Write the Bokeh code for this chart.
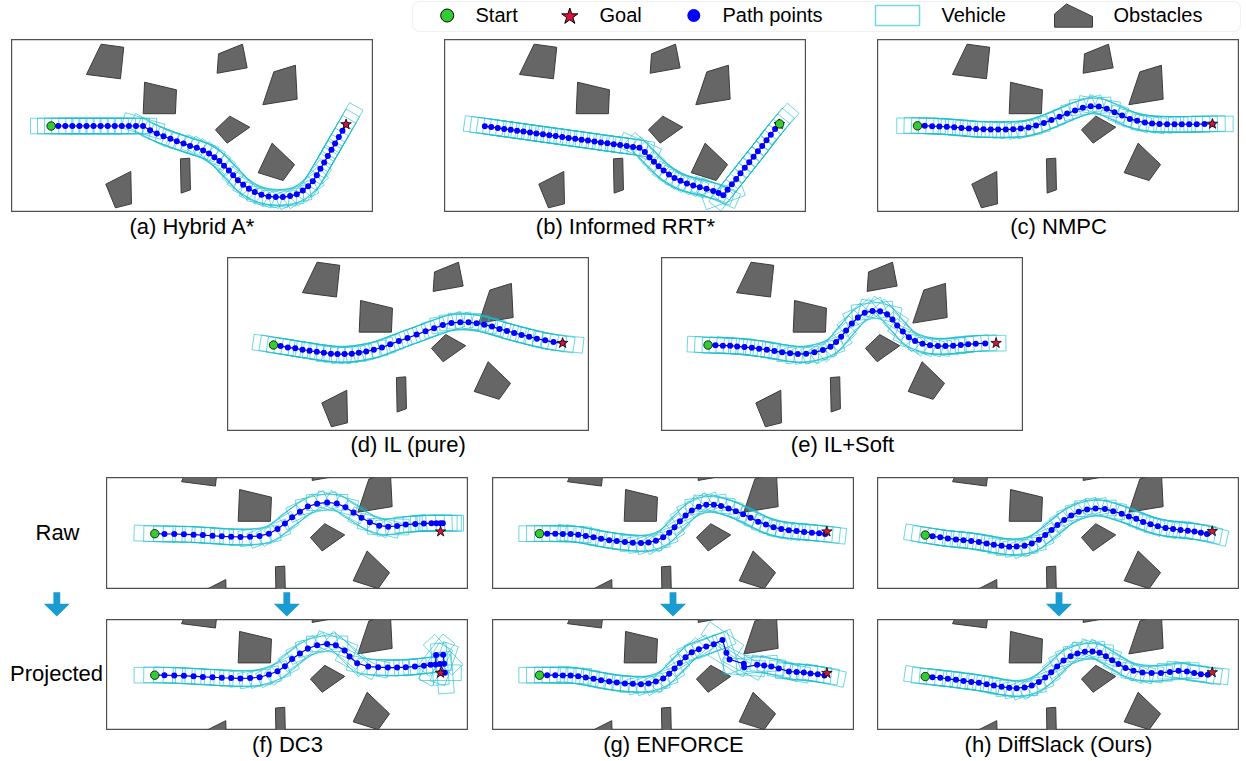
import numpy as np
from bokeh.plotting import figure
from bokeh.layouts import column, row
from bokeh.models import Range1d, Spacer, BoxAnnotation
from bokeh.core.properties import value
from bokeh.embed import file_html
from bokeh.resources import INLINE

FONT = "Liberation Sans"
VEH_L, VEH_W = 2.4, 0.9
CYAN = "#17becf"
OBST_FILL = "#666666"
OBST_LINE = "#3c3c3c"
FRAME = "#505050"
START_C = "#32cd32"
GOAL_C = "#dc143c"
PATH_C = "#0000ff"
ARROW_C = "#1a9bd2"

# ---------------- scene: obstacles (world coordinates, shared by all scenes) ----------------
obstacle_xs = [
    [4.35, 5.20, 6.51, 6.32],
    [11.93, 12.01, 13.40, 13.67],
    [14.58, 15.22, 16.47, 16.57],
    [7.64, 7.72, 9.57, 9.51],
    [11.83, 12.66, 13.82, 12.51],
    [14.31, 15.12, 16.42, 15.76],
    [9.80, 10.34, 10.38, 9.84],
    [5.47, 6.92, 6.96, 6.03],
]
obstacle_ys = [
    [2.98, 4.73, 4.55, 2.73],
    [3.05, 4.17, 4.73, 3.36],
    [1.23, 3.13, 3.51, 1.55],
    [0.71, 2.53, 2.09, 0.71],
    [-0.22, 0.57, -0.07, -0.99],
    [-2.70, -0.99, -2.23, -3.15],
    [-1.90, -1.86, -3.69, -3.88],
    [-3.36, -2.63, -4.50, -4.73],
]

# ---------------- planned paths ----------------
hybrid_x = [2.30, 2.71, 3.12, 3.53, 3.94, 4.35, 4.76, 5.17, 5.58, 5.99, 6.40, 6.81, 7.22, 7.63,
            8.04, 8.43, 8.82, 9.22, 9.59, 9.98, 10.36, 10.75, 11.12, 11.46, 11.77, 12.06, 12.33,
            12.61, 12.86, 13.13, 13.44, 13.77, 14.11, 14.50, 14.91, 15.33, 15.74,
            16.16, 16.55, 16.90, 17.21, 17.48, 17.71, 17.92, 18.14, 18.35, 18.56, 18.77, 18.99, 19.20, 19.41]
hybrid_y = [0, 0, 0, 0, 0, 0, 0, 0, 0, 0, 0, 0, 0, 0,
            -0.24, -0.43, -0.59, -0.74, -0.88, -1.01, -1.15, -1.26, -1.41, -1.59, -1.80, -2.03, -2.30,
            -2.57, -2.84, -3.13, -3.40, -3.63, -3.82, -3.98, -4.07, -4.11, -4.11,
            -4.05, -3.94, -3.73, -3.48, -3.19, -2.84, -2.47, -2.11, -1.74, -1.38, -1.01, -0.64, -0.28, 0.09]

rrt_x = [2.34, 2.71, 3.09, 3.46, 3.84, 4.21, 4.58, 4.96, 5.33, 5.71, 6.08, 6.45, 6.83, 7.20, 7.58,
         7.95, 8.32, 8.70, 9.07, 9.45, 9.82, 10.19, 10.57, 10.94, 11.31,
         11.62, 11.89, 12.15, 12.42, 12.71, 13.02, 13.34, 13.69, 14.06, 14.43, 14.81, 15.20, 15.59, 15.90, 16.17,
         16.42, 16.67, 16.92, 17.17, 17.42, 17.68, 17.93, 18.18, 18.43, 18.68, 18.93, 19.18, 19.44]
rrt_y = [-0.01, -0.06, -0.11, -0.17, -0.22, -0.27, -0.32, -0.37, -0.43, -0.48, -0.53, -0.58, -0.63, -0.69, -0.74,
         -0.79, -0.84, -0.89, -0.95, -1.00, -1.05, -1.10, -1.15, -1.21, -1.26,
         -1.51, -1.80, -2.07, -2.32, -2.57, -2.80, -3.00, -3.17, -3.33, -3.44, -3.54, -3.63, -3.75, -3.88, -4.00,
         -3.69, -3.36, -3.06, -2.73, -2.42, -2.09, -1.78, -1.46, -1.15, -0.82, -0.51, -0.18, 0.12]

nmpc_x = [2.32, 2.74, 3.17, 3.59, 4.02, 4.45, 4.87, 5.30, 5.72, 6.15, 6.57, 7.00, 7.44, 7.87, 8.31, 8.76,
          9.20, 9.65, 10.09, 10.56, 11.00, 11.46, 11.91, 12.37, 12.84, 13.30, 13.75, 14.19, 14.64, 15.06,
          15.51, 15.93, 16.36, 16.80, 17.23, 17.65, 18.08, 18.52, 18.97, 19.43]
nmpc_y = [0.01, 0.01, -0.01, -0.03, -0.05, -0.07, -0.11, -0.15, -0.17, -0.19, -0.20, -0.20, -0.20, -0.19,
          -0.15, -0.09, 0.03, 0.18, 0.34, 0.53, 0.72, 0.89, 1.05, 1.14, 1.12, 0.99, 0.80, 0.60, 0.41, 0.30,
          0.20, 0.14, 0.12, 0.10, 0.10, 0.10, 0.10, 0.10, 0.12, 0.12]

il_x = [2.67, 3.08, 3.50, 3.93, 4.35, 4.76, 5.18, 5.59, 6.00, 6.38, 6.79, 7.21, 7.62, 8.05, 8.49, 8.96,
        9.44, 9.94, 10.44, 10.97, 11.49, 11.99, 12.49, 12.99, 13.50, 13.98, 14.45, 14.89, 15.34, 15.78,
        16.21, 16.63, 17.06, 17.50, 17.95, 18.43, 18.91, 19.44]
il_y = [-0.03, -0.09, -0.17, -0.22, -0.30, -0.36, -0.42, -0.47, -0.53, -0.55, -0.55, -0.53, -0.47, -0.40,
        -0.30, -0.17, 0.01, 0.20, 0.37, 0.57, 0.76, 0.93, 1.12, 1.24, 1.28, 1.28, 1.22, 1.14, 1.03, 0.89,
        0.78, 0.66, 0.55, 0.45, 0.33, 0.24, 0.14, 0.08]

soft_x = [2.70, 3.13, 3.56, 3.98, 4.39, 4.81, 5.24, 5.66, 6.11, 6.55, 7.00, 7.46, 7.91, 8.39, 8.87, 9.36,
          9.80, 10.13, 10.42, 10.71, 11.04, 11.39, 11.79, 12.24, 12.68, 13.09, 13.40, 13.67, 14.00, 14.35,
          14.71, 15.14, 15.58, 16.03, 16.47, 16.92, 17.36, 17.79, 18.23, 18.78]
soft_y = [-0.03, -0.05, -0.07, -0.07, -0.11, -0.15, -0.19, -0.24, -0.30, -0.38, -0.45, -0.51, -0.55, -0.53,
          -0.45, -0.32, -0.13, 0.14, 0.45, 0.80, 1.20, 1.55, 1.82, 1.93, 1.91, 1.74, 1.43, 1.09, 0.74, 0.41,
          0.20, 0.05, -0.05, -0.09, -0.09, -0.07, -0.03, 0.01, 0.05, 0.06]

dc3_raw_x = [2.80, 3.36, 3.93, 4.49, 5.05, 5.59, 6.15, 6.69, 7.23, 7.77, 8.33, 8.88, 9.42, 9.92, 10.35,
             10.77, 11.22, 11.68, 12.22, 12.80, 13.36, 13.86, 14.33, 14.79, 15.28, 15.82, 16.34, 16.86,
             17.36, 17.91, 18.41, 18.85, 19.14, 19.38, 19.51]
dc3_raw_y = [0.00, -0.02, -0.02, -0.04, -0.06, -0.08, -0.12, -0.15, -0.17, -0.19, -0.17, -0.13, 0.00, 0.27,
             0.58, 0.94, 1.25, 1.56, 1.72, 1.79, 1.73, 1.52, 1.21, 0.91, 0.66, 0.46, 0.40, 0.44, 0.52, 0.56,
             0.58, 0.60, 0.60, 0.60, 0.60]
dc3_proj_x = [2.80, 3.36, 3.93, 4.49, 5.05, 5.59, 6.15, 6.69, 7.23, 7.77, 8.33, 8.88, 9.42, 9.92, 10.35,
              10.77, 11.22, 11.68, 12.22, 12.80, 13.30, 13.81, 14.10, 14.54, 15.18, 15.76, 16.32, 16.86,
              17.36, 17.89, 18.41, 18.80, 19.09, 19.12, 19.53, 19.59, 19.34, 19.63, 19.38]
dc3_proj_y = [0.00, 0.00, -0.02, -0.04, -0.06, -0.10, -0.12, -0.15, -0.17, -0.19, -0.17, -0.12, 0.04, 0.23,
              0.52, 0.93, 1.25, 1.54, 1.73, 1.81, 1.73, 1.43, 1.08, 0.69, 0.50, 0.46, 0.44, 0.44, 0.46, 0.50,
              0.54, 0.60, 0.62, 1.16, 1.18, 0.66, 0.64, 0.14, 0.14]

enf_raw_x = [2.73, 3.17, 3.64, 4.08, 4.53, 4.97, 5.41, 5.86, 6.30, 6.77, 7.21, 7.68, 8.14, 8.61, 9.05,
             9.48, 9.90, 10.25, 10.56, 10.87, 11.20, 11.56, 11.97, 12.40, 12.84, 13.26, 13.69, 14.12, 14.54,
             14.97, 15.41, 15.86, 16.30, 16.75, 17.19, 17.64, 18.08, 18.53, 18.95, 19.30]
enf_raw_y = [0.00, 0.00, 0.00, -0.02, -0.02, -0.06, -0.13, -0.21, -0.29, -0.37, -0.42, -0.48, -0.52, -0.54,
             -0.50, -0.40, -0.21, 0.06, 0.37, 0.71, 1.04, 1.33, 1.54, 1.66, 1.66, 1.58, 1.45, 1.29, 1.12,
             0.91, 0.69, 0.52, 0.37, 0.27, 0.19, 0.15, 0.10, 0.06, 0.02, -0.02]
enf_proj_x = [2.73, 3.17, 3.64, 4.08, 4.53, 4.97, 5.41, 5.86, 6.30, 6.77, 7.21, 7.68, 8.14, 8.61, 9.05,
              9.48, 9.90, 10.25, 10.56, 10.87, 11.20, 11.56, 11.97, 12.40, 12.84, 13.34, 13.57, 13.75, 14.58,
              14.60, 15.35, 15.76, 16.18, 16.61, 17.19, 17.64, 18.06, 18.45, 18.87, 19.26]
enf_proj_y = [0.00, 0.00, 0.00, -0.02, -0.02, -0.06, -0.13, -0.21, -0.29, -0.37, -0.42, -0.48, -0.50, -0.52,
              -0.48, -0.37, -0.19, 0.08, 0.39, 0.71, 1.04, 1.33, 1.50, 1.66, 1.79, 2.04, 1.29, 0.91, 0.66,
              0.46, 0.60, 0.56, 0.50, 0.39, 0.21, 0.19, 0.15, 0.10, 0.06, -0.02]

ds_raw_x = [2.77, 3.19, 3.64, 4.08, 4.55, 4.99, 5.44, 5.88, 6.33, 6.75, 7.20, 7.64, 8.07, 8.53, 8.95,
            9.36, 9.73, 10.10, 10.44, 10.83, 11.24, 11.68, 12.16, 12.65, 13.19, 13.67, 14.16, 14.58, 15.01,
            15.41, 15.84, 16.26, 16.71, 17.15, 17.58, 18.00, 18.39, 18.76, 19.11]
ds_raw_y = [-0.08, -0.15, -0.21, -0.27, -0.33, -0.37, -0.42, -0.48, -0.56, -0.64, -0.69, -0.75, -0.73,
            -0.69, -0.56, -0.35, -0.08, 0.21, 0.50, 0.79, 1.04, 1.25, 1.39, 1.45, 1.41, 1.29, 1.14, 0.98,
            0.85, 0.67, 0.54, 0.42, 0.33, 0.27, 0.21, 0.17, 0.12, 0.06, -0.02]
ds_proj_x = [2.77, 3.19, 3.64, 4.08, 4.55, 4.99, 5.44, 5.88, 6.33, 6.75, 7.20, 7.64, 8.07, 8.53, 8.95,
             9.36, 9.73, 10.08, 10.42, 10.79, 11.20, 11.60, 12.03, 12.47, 12.88, 13.25, 13.61, 13.98, 14.39,
             14.85, 15.37, 15.90, 16.44, 16.96, 17.46, 17.95, 18.37, 18.76, 19.16]
ds_proj_y = [-0.06, -0.12, -0.15, -0.21, -0.27, -0.33, -0.39, -0.44, -0.52, -0.60, -0.67, -0.73, -0.75,
             -0.71, -0.60, -0.40, -0.13, 0.17, 0.50, 0.85, 1.10, 1.25, 1.35, 1.37, 1.29, 1.10, 0.87, 0.64,
             0.42, 0.25, 0.15, 0.12, 0.13, 0.19, 0.25, 0.21, 0.13, 0.06, 0.02]

# start / goal markers per scene
starts = {"a": (2.30, 0.00), "b": (19.44, 0.12), "c": (2.32, 0.01), "d": (2.67, -0.03), "e": (2.70, -0.03),
          "f": (2.80, 0.00), "g": (2.73, 0.00), "h_raw": (2.77, -0.08), "h_proj": (2.77, -0.06)}
goals = {"a": (19.41, 0.09), "b": (19.42, 0.10), "c": (19.43, 0.12), "d": (19.44, 0.08), "e": (19.41, 0.08),
         "f_raw": (19.38, 0.12), "f_proj": (19.38, 0.13), "g": (19.40, 0.12), "h_raw": (19.42, 0.14),
         "h_proj": (19.42, 0.16)}

panel_titles_top = ["(a) Hybrid A*", "(b) Informed RRT*", "(c) NMPC"]
panel_titles_mid = ["(d) IL (pure)", "(e) IL+Soft"]
panel_titles_bot = ["(f) DC3", "(g) ENFORCE", "(h) DiffSlack (Ours)"]
legend_labels = ["Start", "Goal", "Path points", "Vehicle", "Obstacles"]

W = 1246


def bare(width, height, xr, yr):
    p = figure(width=width, height=height, x_range=xr, y_range=yr,
               x_axis_location=None, y_axis_location=None, toolbar_location=None,
               output_backend="svg", min_border=0)
    p.min_border_left = p.min_border_right = p.min_border_top = p.min_border_bottom = 0
    p.xgrid.visible = False
    p.ygrid.visible = False
    p.outline_line_color = None
    p.background_fill_color = "white"
    p.border_fill_color = "white"
    return p


def scene(xs, ys, start, goal, height, y_lo, y_hi):
    p = bare(362, height, Range1d(0, 21), Range1d(y_lo, y_hi))
    p.outline_line_color = FRAME
    p.outline_line_width = 1.4
    p.patches(obstacle_xs, obstacle_ys, fill_color=OBST_FILL, line_color=OBST_LINE, line_width=1)
    x = np.asarray(xs, dtype=float)
    y = np.asarray(ys, dtype=float)
    heading = np.arctan2(np.gradient(y), np.gradient(x))
    p.rect(x, y, width=VEH_L, height=VEH_W, angle=heading, fill_color=None,
           line_color=CYAN, line_alpha=0.62, line_width=1)
    p.line(x, y, line_color=PATH_C, line_width=1.2)
    p.scatter(x, y, size=6, fill_color=PATH_C, line_color=None)
    p.scatter([goal[0]], [goal[1]], marker="star", size=11, fill_color=GOAL_C,
              line_color="black", line_width=0.8)
    p.scatter([start[0]], [start[1]], marker="circle", size=8.5, fill_color=START_C,
              line_color="black", line_width=0.8)
    return p


def text_strip(height, labels, centers, mid_y, width=W, size="22px", align="center"):
    p = bare(width, height, Range1d(0, width), Range1d(height, 0))
    p.text(x=centers, y=[mid_y] * len(labels), text=labels, text_font=value(FONT),
           text_font_size=size, text_align=align, text_baseline="middle", text_color="black")
    return p


# ---------------- legend strip ----------------
leg = bare(W, 39, Range1d(0, W), Range1d(39, 0))
leg.add_layout(BoxAnnotation(left=412, right=1240, top=1, bottom=31, border_radius=7, level="underlay",
                             fill_color="white", fill_alpha=1, line_color="#d0d0d0", line_width=1.2))
leg.scatter([446.7], [15], marker="circle", size=13, fill_color=START_C, line_color="black", line_width=1)
leg.scatter([569.3], [16], marker="star", size=17, fill_color=GOAL_C, line_color="black", line_width=1)
leg.scatter([693.3], [15], marker="circle", size=13, fill_color=PATH_C, line_color=None)
leg.quad(left=875, right=919, top=5, bottom=25, fill_color=None, line_color=CYAN, line_alpha=0.6, line_width=1.5)
leg.patch([1054, 1054, 1066, 1092, 1092], [26.7, 13.5, 3.5, 16, 26.7],
          fill_color=OBST_FILL, line_color=OBST_LINE, line_width=1)
leg.text(x=[475, 599, 722, 941, 1113], y=[14] * 5, text=legend_labels, text_font=value(FONT),
         text_font_size="20px", text_align="left", text_baseline="middle", text_color="black")

# ---------------- scenes ----------------
top_lo, top_hi = -5, 5
bot_lo, bot_hi = -3.2, 3.22

pa = scene(hybrid_x, hybrid_y, starts["a"], goals["a"], 173, top_lo, top_hi)
pb = scene(rrt_x, rrt_y, starts["b"], goals["b"], 173, top_lo, top_hi)
pc = scene(nmpc_x, nmpc_y, starts["c"], goals["c"], 173, top_lo, top_hi)
pd = scene(il_x, il_y, starts["d"], goals["d"], 174, top_lo, top_hi)
pe = scene(soft_x, soft_y, starts["e"], goals["e"], 174, top_lo, top_hi)
pf_r = scene(dc3_raw_x, dc3_raw_y, starts["f"], goals["f_raw"], 112, bot_lo, bot_hi)
pg_r = scene(enf_raw_x, enf_raw_y, starts["g"], goals["g"], 112, bot_lo, bot_hi)
ph_r = scene(ds_raw_x, ds_raw_y, starts["h_raw"], goals["h_raw"], 112, bot_lo, bot_hi)
pf_p = scene(dc3_proj_x, dc3_proj_y, starts["f"], goals["f_proj"], 111, bot_lo, bot_hi)
pg_p = scene(enf_proj_x, enf_proj_y, starts["g"], goals["g"], 111, bot_lo, bot_hi)
ph_p = scene(ds_proj_x, ds_proj_y, starts["h_raw"], goals["h_proj"], 111, bot_lo, bot_hi)

# ---------------- captions and side labels ----------------
cap_top = text_strip(45, panel_titles_top, [192, 625, 1058], 14)
cap_mid = text_strip(46, panel_titles_mid, [408, 842], 12.7)
cap_bot = text_strip(31, panel_titles_bot, [287, 673, 1058], 13.8)
raw_lbl = text_strip(112, ["Raw"], [57], 54.7, width=106)
proj_lbl = text_strip(111, ["Projected"], [56], 53.8, width=106)

# ---------------- arrows from raw to projected ----------------
arr = bare(W, 30, Range1d(0, W), Range1d(30, 0))
arrow_cx = [56.3, 286.3, 672.5, 1058.5]
shaft_hw, head_hw, y0, y1, y2 = 3.4, 13, 2.7, 14.3, 27
arr.patches([[c - shaft_hw, c + shaft_hw, c + shaft_hw, c + head_hw, c, c - head_hw, c - shaft_hw] for c in arrow_cx],
            [[y0, y0, y1, y1, y2, y1, y1] for _ in arrow_cx],
            fill_color=ARROW_C, line_color=None)

layout = column(
    leg,
    row(Spacer(width=11, height=173), pa, Spacer(width=71, height=173), pb,
        Spacer(width=71, height=173), pc, Spacer(width=7, height=173)),
    cap_top,
    row(Spacer(width=227, height=174), pd, Spacer(width=72, height=174), pe, Spacer(width=223, height=174)),
    cap_mid,
    row(raw_lbl, pf_r, Spacer(width=24, height=112), pg_r, Spacer(width=23, height=112), ph_r,
        Spacer(width=7, height=112)),
    arr,
    row(proj_lbl, pf_p, Spacer(width=24, height=111), pg_p, Spacer(width=23, height=111), ph_p,
        Spacer(width=7, height=111)),
    cap_bot,
)

open("out.html", "w").write(file_html(layout, INLINE))
